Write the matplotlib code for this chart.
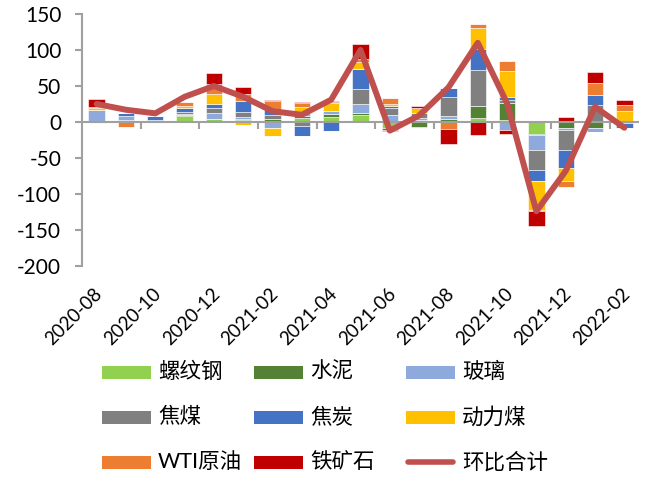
import matplotlib
matplotlib.use('Agg')
import matplotlib.pyplot as plt
import numpy as np
from matplotlib.patches import Rectangle
from matplotlib.lines import Line2D
from matplotlib.transforms import ScaledTranslation

plt.rcParams['font.family'] = ['Lato', 'Noto Sans CJK SC', 'DejaVu Sans']
plt.rcParams['axes.unicode_minus'] = False

months = ['2020-08', '2020-09', '2020-10', '2020-11', '2020-12', '2021-01', '2021-02',
          '2021-03', '2021-04', '2021-05', '2021-06', '2021-07', '2021-08', '2021-09',
          '2021-10', '2021-11', '2021-12', '2022-01', '2022-02']

names = ['螺纹钢', '水泥', '玻璃', '焦煤', '焦炭', '动力煤', 'WTI原油', '铁矿石']
rebar   = [0, 0, 0, 8, 3.7, 2.5, 2, 5, 7, 9.3, -8, 2.5, 1.5, 5, 2.8, -17, 0, 0, 0]
cement  = [0, 2.5, 2.5, 1.5, 0, 1, 1.5, 3, 4.5, 2.7, -3, -6.5, 2, 17, 24, -1.5, -8.5, -8.5, 0]
glass   = [17, 6, 0, 1.5, 8.3, 3.5, -8, 4.6, 3.5, 12.5, 9.7, 3.5, 5.5, 0, -11, -20, -2, -6, -1]
cokcoal = [-1.5, 0, 0, 2.7, 7, 6.5, 6, -5.5, 0, 21, 10, 6, 26, 50, 3.5, -27.5, -28.5, 23, 1]
coke    = [0, 4.5, 6.5, 5.6, 6, 15, 7, -14, -12.5, 27.5, 3, -2.5, 12.5, 30, 5, -16, -25.5, 15, -8]
thermal = [2, 0, 0, 3.2, 13.4, -3.7, -11, 8, 12, 11, 2, 8, 0, 28, 36, -40, -17, 0, 14]
wti     = [2.5, -6.5, 0, 4.6, 14.4, 10.5, 12.5, 5.5, 1, 4, 9, 0, -10, 6, 13, -2, -9, 16, 8]
iron    = [11, 0, 0, 0, 14.8, 9.5, 1.5, 2, 1.5, 21, -1.5, 2, -20.5, -18, -6, -20, 7.5, 15, 8]
total   = [25, 17, 12, 35, 50, 35, 15, 10, 31, 100, -12, 9, 48, 110, 26, -124, -68, 21, -8]
total_name = '环比合计'

colors = ['#92D050', '#548235', '#8EA9DB', '#808080', '#4472C4', '#FFC000', '#ED7D31', '#C00000']
line_color = '#C0504D'
axis_gray = '#A0A0A0'

series = [rebar, cement, glass, cokcoal, coke, thermal, wti, iron]

W, H = 648, 478
fig = plt.figure(figsize=(W / 100, H / 100), dpi=100)
ax = fig.add_axes([82 / W, 1 - 266 / H, 557 / W, 252 / H])

x = np.arange(len(months))
pos_base = np.zeros(len(months))
neg_base = np.zeros(len(months))
for vals, c in zip(series, colors):
    v = np.array(vals, dtype=float)
    pos = np.where(v > 0, v, 0)
    neg = np.where(v < 0, v, 0)
    ax.bar(x, pos, 0.56, bottom=pos_base, color=c, edgecolor='#FFFFFF', linewidth=0.4, zorder=2)
    ax.bar(x, neg, 0.56, bottom=neg_base, color=c, edgecolor='#FFFFFF', linewidth=0.4, zorder=2)
    pos_base += pos
    neg_base += neg

ax.axhline(0, color=axis_gray, lw=1.5, zorder=3)
ax.vlines(np.arange(1.5, 18, 2), -9.7, 0, color=axis_gray, lw=1.5, zorder=3)

ax.plot(x, total, color=line_color, lw=4.3, solid_capstyle='round', solid_joinstyle='round', zorder=4)

ax.set_xlim(-0.5, 18.5)
ax.set_ylim(-200, 150)
for s in ['top', 'right', 'bottom']:
    ax.spines[s].set_visible(False)
ax.spines['left'].set_color(axis_gray)
ax.spines['left'].set_linewidth(1.5)

ax.set_yticks(np.arange(-200, 151, 50))
ax.tick_params(axis='y', length=5, width=1.5, color=axis_gray, labelsize=15, pad=10)

ax.set_xticks(x[::2])
ax.set_xticklabels(months[::2], rotation=45, ha='right', va='center', rotation_mode='anchor', fontsize=13.5)
ax.tick_params(axis='x', length=0, pad=18)
for lbl in ax.get_xticklabels():
    lbl.set_transform(lbl.get_transform() + ScaledTranslation(3 / 100, 0, fig.dpi_scale_trans))

# legend (3 x 3 grid)
col_x = [102, 254, 406]
row_y = [372, 417, 462]
order = [(n, c) for n, c in zip(names, colors)] + [(total_name, None)]
for i, (n, c) in enumerate(order):
    r, k = divmod(i, 3)
    x0 = col_x[k]
    yc = row_y[r]
    if c is not None:
        fig.add_artist(Rectangle((x0 / W, 1 - (yc + 6.5) / H), 49 / W, 13 / H,
                                 transform=fig.transFigure, facecolor=c, edgecolor='none'))
    else:
        fig.add_artist(Line2D([(x0 + 2) / W, (x0 + 47) / W], [1 - yc / H, 1 - yc / H],
                              transform=fig.transFigure, color=line_color, lw=4,
                              solid_capstyle='round'))
    fig.text((x0 + 56) / W, 1 - yc / H, n, fontsize=15.5, va='center', ha='left')

fig.savefig('out.png', dpi=100)
